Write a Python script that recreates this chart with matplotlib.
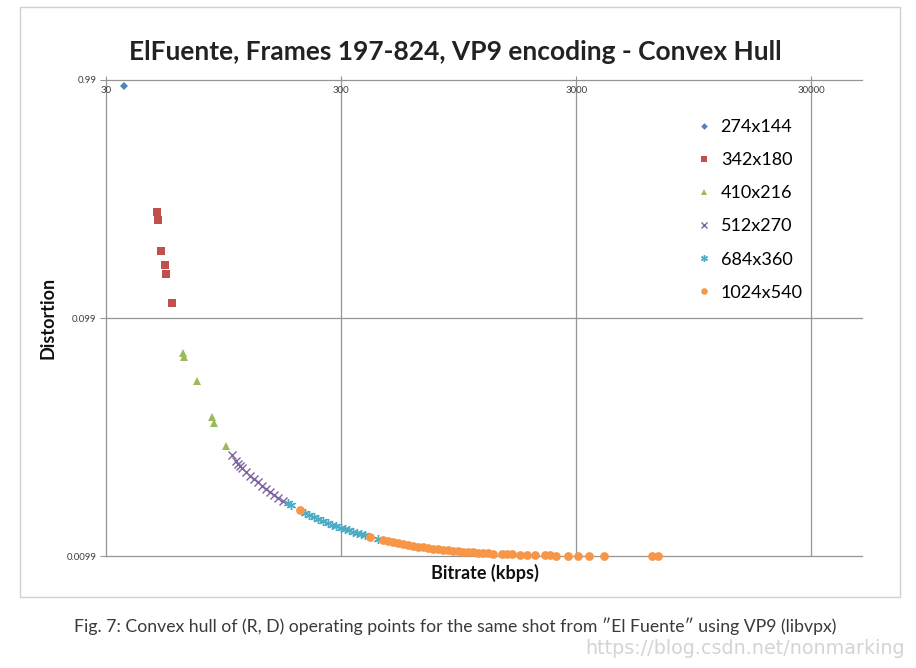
import matplotlib
matplotlib.use("Agg")
import matplotlib.pyplot as plt
from matplotlib.patches import Rectangle
from matplotlib.ticker import FixedLocator, FixedFormatter, NullLocator

plt.rcParams['font.family'] = ['Lato', 'DejaVu Sans']

# data (bitrate kbps, distortion)
labels = ['274x144', '342x180', '410x216', '512x270', '684x360', '1024x540']

x_274 = [35.8]
y_274 = [0.935]

x_342 = [49.5, 49.9, 51.5, 53.5, 54.0, 57.3]
y_342 = [0.275, 0.256, 0.190, 0.165, 0.152, 0.114]

x_410 = [63.6, 64.4, 73.2, 85.0, 86.4, 97.5]
y_410 = [0.0704, 0.0681, 0.0540, 0.0381, 0.0360, 0.0288]

x_512 = [103.1, 107.2, 109.3, 111.5, 113.7, 118.2, 123.0, 127.8, 133.0, 138.2,
         143.9, 149.6, 155.6, 161.8, 169.9]
y_512 = [0.0264, 0.02486, 0.02415, 0.02369, 0.02323, 0.02235, 0.02150, 0.02088,
         0.02029, 0.01952, 0.01896, 0.01841, 0.01789, 0.01737, 0.01688]

x_684 = [178.5, 183.8, 210.9, 219.3, 230.3, 239.5, 251.5, 264.2, 274.8, 285.7,
         300.0, 312.0, 324.5, 337.5, 351.0, 365.0, 379.5, 430.9]
y_684 = [0.01655, 0.01623, 0.01502, 0.01474, 0.01445, 0.01418, 0.0139, 0.01363,
         0.01337, 0.01324, 0.01299, 0.01287, 0.01275, 0.0125, 0.01238, 0.01226,
         0.01214, 0.01168]

x_1024 = [200.8, 398.6, 452.7, 475.4, 499.4, 524.6, 550.7, 578.4, 607.6, 638.2,
          669.9, 703.7, 739.1, 776.3, 815.2, 856.1, 899.1, 944.1, 991.3, 1041,
          1094, 1148, 1206, 1266, 1330, 1453, 1526, 1603, 1734, 1856,
          2008, 2214, 2325, 2466, 2774, 3059, 3408, 3947, 6318, 6699]
y_1024 = [0.01546, 0.0119, 0.01156, 0.01145, 0.01134, 0.01123, 0.01112, 0.01101,
          0.01091, 0.0108, 0.0108, 0.0107, 0.01059, 0.01059, 0.01049, 0.01049,
          0.01039, 0.01039, 0.01029, 0.01029, 0.01029, 0.01019, 0.01019, 0.01019,
          0.01009, 0.01009, 0.01009, 0.01009, 0.00999, 0.00999, 0.00999, 0.00999,
          0.00999, 0.00993, 0.00993, 0.00993, 0.00993, 0.00993, 0.00993, 0.00993]

x_ticks = [30, 300, 3000, 30000]
x_tick_labels = ['30', '300', '3000', '30000']
y_ticks = [0.99, 0.099, 0.0099]
y_tick_labels = ['0.99', '0.099', '0.0099']

series = [
    (x_274, y_274, 'D', '#4F81BD', 4.5),
    (x_342, y_342, 's', '#C0504D', 5.5),
    (x_410, y_410, '^', '#9BBB59', 6),
    (x_512, y_512, 'x', '#8064A2', 5.5),
    (x_684, y_684, (6, 2, 0), '#4BACC6', 6.5),
    (x_1024, y_1024, 'o', '#F79646', 6.3),
]

fig = plt.figure(figsize=(9.16, 6.68), dpi=100)

# outer chart frame
fig.patches.append(Rectangle((20 / 916, 1 - 597 / 668), 880 / 916, 590 / 668,
                             transform=fig.transFigure, fill=False,
                             edgecolor='#d0d0d0', linewidth=1))

ax = fig.add_axes([106 / 916, 1 - 556 / 668, 756 / 916, 476 / 668])
ax.set_xscale('log')
ax.set_yscale('log')
ax.set_xlim(30, 49300)
ax.set_ylim(0.0099, 0.99)

for (xs, ys, m, c, ms), lab in zip(series, labels):
    if m == 'x' or isinstance(m, tuple):
        ax.plot(xs, ys, linestyle='none', marker=m, color=c, markersize=ms,
                markeredgewidth=1.0, label=lab, clip_on=False, zorder=3)
    else:
        ax.plot(xs, ys, linestyle='none', marker=m, color=c, markersize=ms,
                markeredgewidth=0, label=lab, clip_on=False, zorder=3)

# gridlines
for xv in x_ticks[1:]:
    ax.axvline(xv, color='#959595', linewidth=0.9, zorder=1)
for yv in y_ticks[1:]:
    ax.axhline(yv, color='#959595', linewidth=0.9, zorder=1, clip_on=False)

for s in ['right', 'bottom']:
    ax.spines[s].set_visible(False)
for s in ['left', 'top']:
    ax.spines[s].set_color('#959595')
    ax.spines[s].set_linewidth(0.9)

ax.xaxis.set_major_locator(FixedLocator(x_ticks))
ax.xaxis.set_major_formatter(FixedFormatter(x_tick_labels))
ax.xaxis.set_minor_locator(NullLocator())
ax.yaxis.set_major_locator(FixedLocator(y_ticks))
ax.yaxis.set_major_formatter(FixedFormatter(y_tick_labels))
ax.yaxis.set_minor_locator(NullLocator())

ax.tick_params(axis='x', which='major', top=True, bottom=False, labeltop=False,
               labelbottom=False, direction='out', length=3, color='#959595')
ax.tick_params(axis='y', which='major', direction='out', length=4,
               color='#959595', labelsize=7, labelcolor='#404040', pad=3)

# x tick labels sit just under the top axis line
for xv, lab in zip(x_ticks, x_tick_labels):
    ax.annotate(lab, xy=(xv, 0.99), xytext=(0, -4), textcoords='offset points',
                ha='center', va='top', fontsize=7, color='#404040')

fig.text(455 / 916, 1 - 52 / 668, 'ElFuente, Frames 197-824, VP9 encoding - Convex Hull',
         ha='center', va='center', fontsize=19, fontweight='bold', color='#222222')
fig.text(48 / 916, 1 - 318 / 668, 'Distortion', rotation=90, ha='center',
         va='center', fontsize=13, fontweight='bold', color='#111111')
fig.text(485 / 916, 1 - 573 / 668, 'Bitrate (kbps)', ha='center', va='center',
         fontsize=13, fontweight='bold', color='#111111')

leg = ax.legend(loc='upper left', bbox_to_anchor=(690 / 916, 1 - 110 / 668),
                bbox_transform=fig.transFigure, frameon=False, fontsize=13,
                markerscale=0.75, handlelength=0.6, handletextpad=0.6,
                labelspacing=0.95, borderpad=0)

fig.text(455 / 916, 1 - 626 / 668,
         'Fig. 7: Convex hull of (R, D) operating points for the same shot from \u2033El Fuente\u2033 using VP9 (libvpx)',
         ha='center', va='center', fontsize=12.7, color='#3a3a3a',
         family=['Lato', 'DejaVu Sans'])
fig.text(905 / 916, 1 - 648 / 668, 'https://blog.csdn.net/nonmarking',
         ha='right', va='center', fontsize=13.8, color='#d4d4d4',
         family=['Liberation Sans Narrow', 'DejaVu Sans'])

fig.savefig('out.png', dpi=100)
